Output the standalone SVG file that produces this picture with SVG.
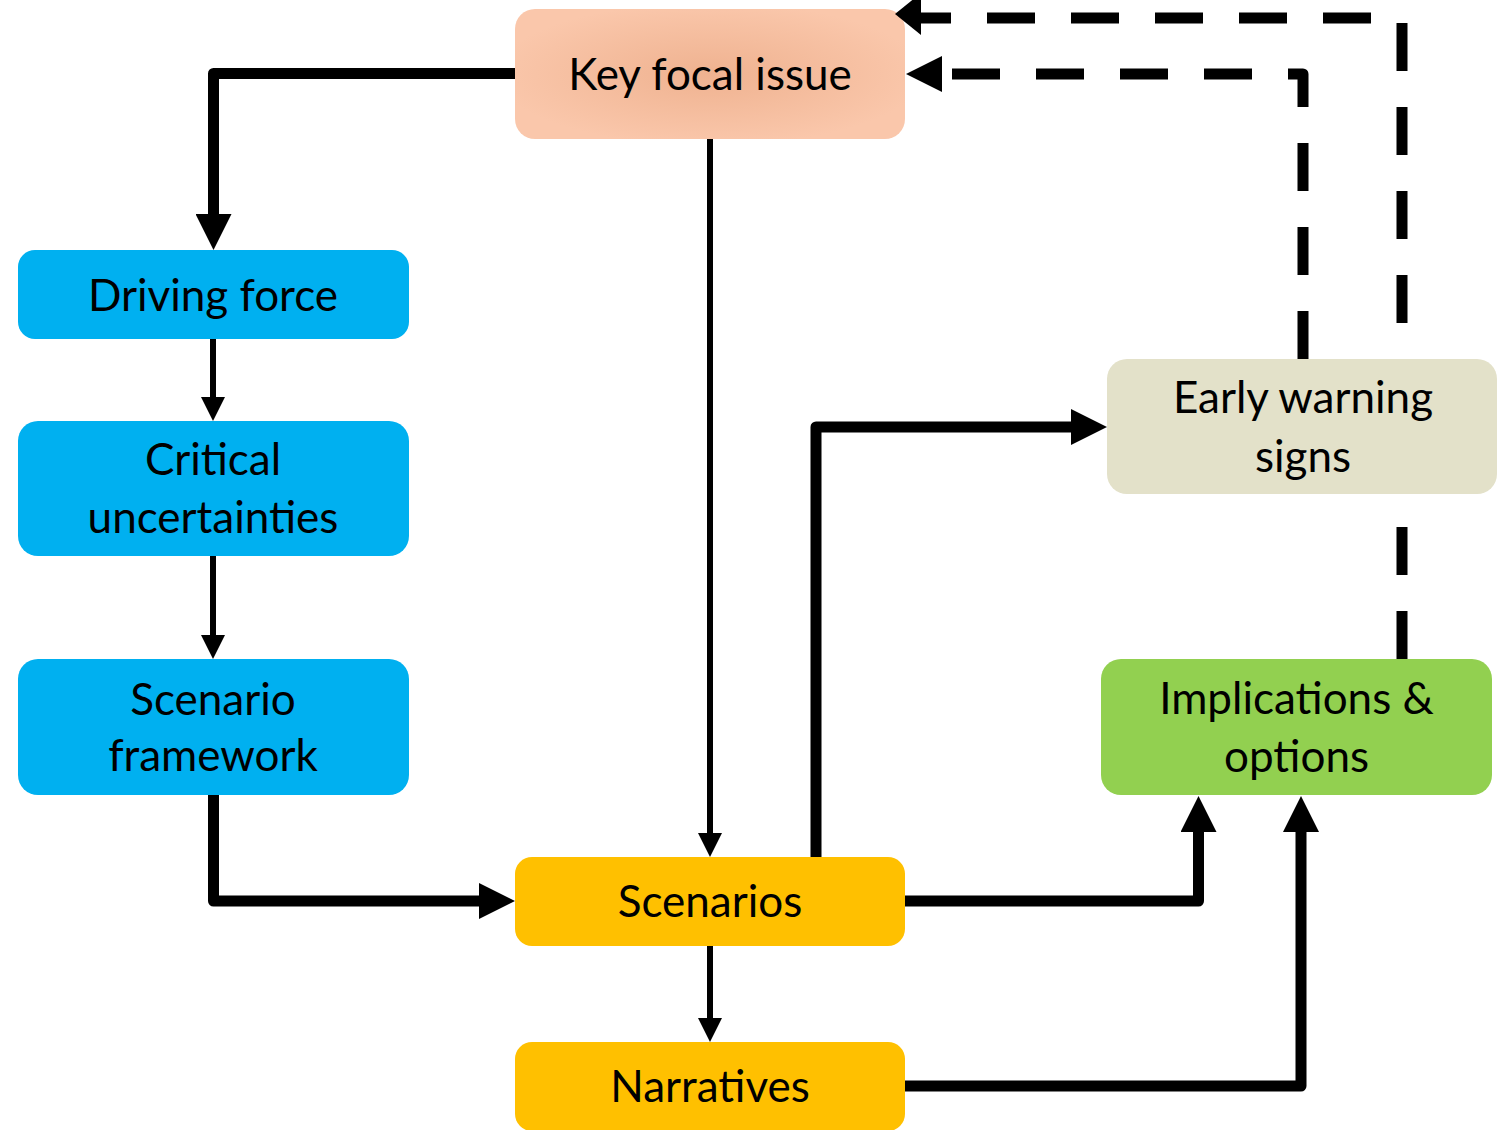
<svg xmlns="http://www.w3.org/2000/svg" width="1498" height="1130" viewBox="0 0 1498 1130">
  <style>
    .label { font-family: Lato, "Open Sans", "Liberation Sans", sans-serif; font-size: 44px; fill: #000; text-anchor: middle; }
    .solid { fill: none; stroke: #000; stroke-linejoin: round; }
    .thick { stroke-width: 11; marker-end: url(#headBig); }
    .thin { stroke-width: 6; marker-end: url(#headSmall); }
    .dashed { fill: none; stroke: #000; stroke-width: 11; stroke-dasharray: 48 36; stroke-linejoin: round; }
  </style>
  <defs>
    <radialGradient id="focalFill" cx="50%" cy="50%" r="55%">
      <stop offset="0" stop-color="#EFB290"/>
      <stop offset="1" stop-color="#FAC7AB"/>
    </radialGradient>
    <marker id="headBig" markerUnits="userSpaceOnUse" markerWidth="36" markerHeight="36" refX="1" refY="18" orient="auto">
      <path d="M0,0 L36,18 L0,36 Z" fill="#000"/>
    </marker>
    <marker id="headSmall" markerUnits="userSpaceOnUse" markerWidth="24" markerHeight="24" refX="1" refY="12" orient="auto">
      <path d="M0,0 L24,12 L0,24 Z" fill="#000"/>
    </marker>
  </defs>

  <rect width="1498" height="1130" fill="#fff"/>

  <!-- nodes -->
  <g id="key-focal-issue">
    <rect x="515" y="9" width="390" height="130" rx="20" fill="url(#focalFill)"/>
    <text class="label" x="710" y="90">Key focal issue</text>
  </g>
  <g id="driving-force">
    <rect x="18" y="250" width="391" height="89" rx="17" fill="#00B0F0"/>
    <text class="label" x="213" y="311">Driving force</text>
  </g>
  <g id="critical-uncertainties">
    <rect x="18" y="421" width="391" height="135" rx="20" fill="#00B0F0"/>
    <text class="label" x="213" y="474.5">Critical</text>
    <text class="label" x="213" y="533">uncertainties</text>
  </g>
  <g id="scenario-framework">
    <rect x="18" y="659" width="391" height="136" rx="20" fill="#00B0F0"/>
    <text class="label" x="213" y="714.5">Scenario</text>
    <text class="label" x="213" y="771">framework</text>
  </g>
  <g id="scenarios">
    <rect x="515" y="857" width="390" height="89" rx="17" fill="#FFC000"/>
    <text class="label" x="710" y="917">Scenarios</text>
  </g>
  <g id="narratives">
    <rect x="515" y="1042" width="390" height="89" rx="17" fill="#FFC000"/>
    <text class="label" x="710" y="1102">Narratives</text>
  </g>
  <g id="early-warning-signs">
    <rect x="1107" y="359" width="390" height="135" rx="20" fill="#E3E1C9"/>
    <text class="label" x="1303" y="413">Early warning</text>
    <text class="label" x="1303" y="471.5">signs</text>
  </g>
  <g id="implications-options">
    <rect x="1101" y="659" width="391" height="136" rx="20" fill="#92D050"/>
    <text class="label" x="1296.5" y="714">Implications &amp;</text>
    <text class="label" x="1296.5" y="771.5">options</text>
  </g>

  <!-- connectors -->
  <g id="connectors">
    <path class="solid thick" d="M515,73.5 H213.5 V215"/>
    <path class="solid thin" d="M213,339 V398"/>
    <path class="solid thin" d="M213,556 V636"/>
    <path class="solid thick" d="M213.5,795 V901 H480"/>
    <path class="solid thin" d="M710,139 V834"/>
    <path class="solid thin" d="M710,946 V1019"/>
    <path class="solid thick" d="M816,857 V427 H1072"/>
    <path class="solid thick" d="M905,901 H1198.5 V831"/>
    <path class="solid thick" d="M905,1086 H1301 V831"/>
    <!-- early warning signs back to the focal issue -->
    <path class="dashed" d="M1303,359 V74 H941" marker-end="url(#headBig)"/>
    <!-- implications back to the focal issue, passing behind the early warning box -->
    <path class="dashed" d="M1402,659 V494"/>
    <path class="dashed" stroke-dashoffset="48" d="M1402,359 V18 H921"/>
    <polygon points="921,-7 895,14 921,35" fill="#000"/>
  </g>
</svg>
